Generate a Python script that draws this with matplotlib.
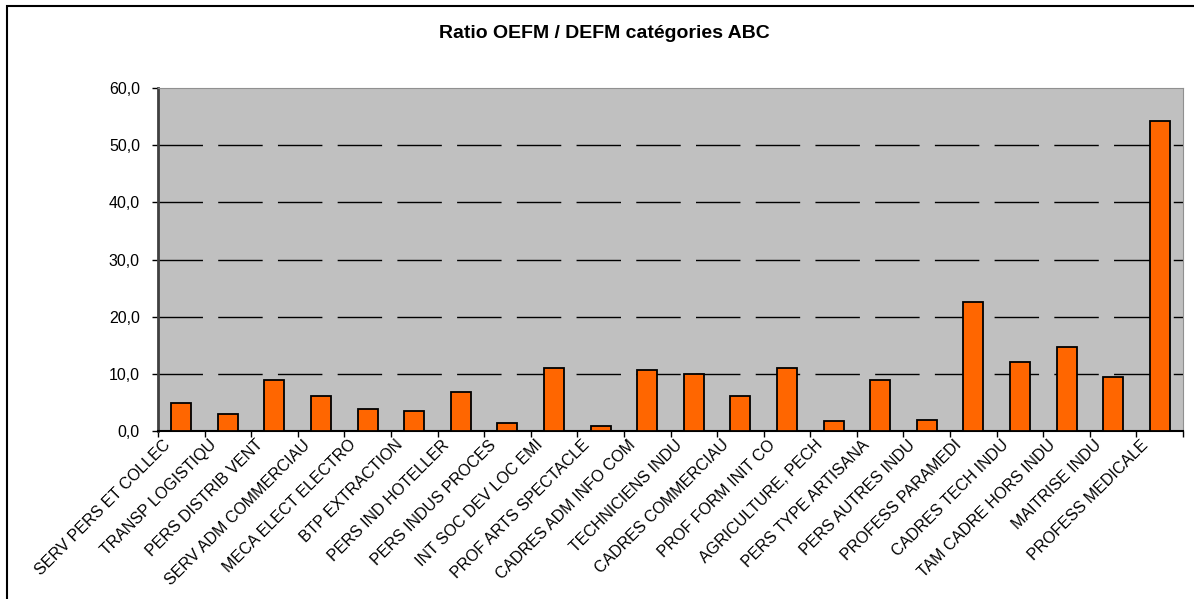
import numpy as np
import matplotlib
matplotlib.use("Agg")
import matplotlib.pyplot as plt
import matplotlib.transforms as mtransforms
from matplotlib.patches import Rectangle

categories = ["SERV PERS ET COLLEC", "TRANSP LOGISTIQU", "PERS DISTRIB VENT",
              "SERV ADM COMMERCIAU", "MECA ELECT ELECTRO", "BTP EXTRACTION",
              "PERS IND HOTELLER", "PERS INDUS PROCES", "INT SOC DEV LOC EMI",
              "PROF ARTS SPECTACLE", "CADRES ADM INFO COM", "TECHNICIENS INDU",
              "CADRES COMMERCIAU", "PROF FORM INIT CO", "AGRICULTURE, PECH",
              "PERS TYPE ARTISANA", "PERS AUTRES INDU", "PROFESS PARAMEDI",
              "CADRES TECH INDU", "TAM CADRE HORS INDU", "MAITRISE INDU",
              "PROFESS MEDICALE"]
ratio = [4.9, 3.0, 8.9, 6.1, 3.9, 3.5, 6.8, 1.4, 11.0, 0.9, 10.7,
         10.0, 6.1, 11.0, 1.8, 8.9, 2.0, 22.5, 12.1, 14.7, 9.5, 54.3]
yticks = [0, 10, 20, 30, 40, 50, 60]
title = "Ratio OEFM / DEFM catégories ABC"

plt.rcParams['font.family'] = ['Liberation Sans', 'DejaVu Sans']
plt.rcParams['lines.scale_dashes'] = False

W, H = 1194, 599
fig = plt.figure(figsize=(W / 100, H / 100), dpi=100)
ax = fig.add_axes([158 / W, 1 - 431 / H, 1025 / W, 343 / H])
ax.set_facecolor("#C0C0C0")

x = np.arange(len(categories))
ax.bar(x, ratio, width=0.43, color="#FF6600", edgecolor="black", linewidth=1.3, zorder=3)

ax.set_xlim(-0.5, len(categories) - 0.5)
ax.set_ylim(0, 60)
ax.set_yticks(yticks)
ax.set_yticklabels([f"{v:.1f}".replace(".", ",") for v in yticks], fontsize=11.5)
for v in yticks[1:-1]:
    ax.axhline(v, color="black", linewidth=1.0, dashes=(32, 11), zorder=2)

# ticks between categories, labels at centers
ax.set_xticks(np.arange(len(categories) + 1) - 0.5)
ax.set_xticklabels([])
ax.set_xticks(x, minor=True)
ax.set_xticklabels(categories, minor=True, rotation=45, ha="right", va="top",
                   rotation_mode="anchor", fontsize=11.5)
ax.tick_params(axis="x", which="major", length=4, width=1, direction="out")
ax.tick_params(axis="x", which="minor", length=0, pad=4.5)
ax.tick_params(axis="y", length=4, width=1, pad=9)
shift = mtransforms.ScaledTranslation(-0.19, 0, fig.dpi_scale_trans)
for lab in ax.get_xticklabels(minor=True):
    lab.set_transform(lab.get_transform() + shift)

ax.spines["left"].set_color("#404040")
ax.spines["left"].set_linewidth(2)
ax.spines["bottom"].set_color("black")
ax.spines["bottom"].set_linewidth(1.5)
ax.spines["top"].set_color("#909090")
ax.spines["right"].set_color("#909090")

fig.text(604 / W, 1 - 33 / H, title, ha="center", va="center",
         fontsize=14, fontweight="bold")

# chart border (cut off at right and bottom)
fig.patches.append(Rectangle((7 / W, -0.1), 1.2, 1 - 6 / H + 0.1, transform=fig.transFigure,
                             fill=False, edgecolor="black", linewidth=1.5))

fig.savefig("out.png", dpi=100)
